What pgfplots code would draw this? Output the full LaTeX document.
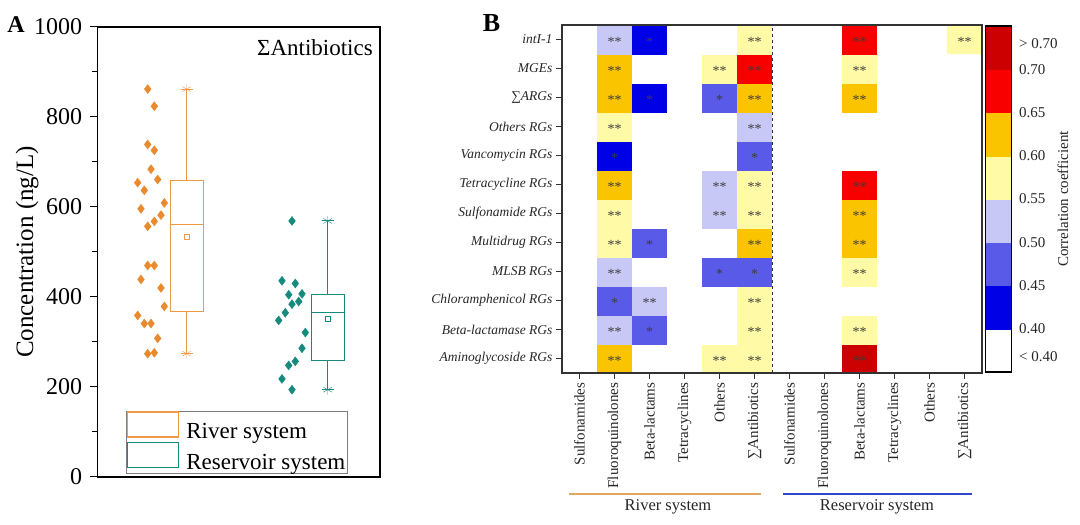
\documentclass[border=0pt]{standalone}
\usepackage{pgfplots}
\pgfplotsset{compat=1.18}
\usepgfplotslibrary{statistics}
\usepackage{fontspec}
\setmainfont{Liberation Serif}
\definecolor{rivo}{HTML}{E98A2E}
\definecolor{rivbox}{HTML}{EE9A48}
\definecolor{resv}{HTML}{178A7E}
\definecolor{cA}{HTML}{0000E6}
\definecolor{cB}{HTML}{5A5AE8}
\definecolor{cC}{HTML}{C8C8F6}
\definecolor{cD}{HTML}{FFFAA6}
\definecolor{cE}{HTML}{FAC400}
\definecolor{cF}{HTML}{F80000}
\definecolor{cG}{HTML}{CC0000}
\definecolor{starc}{HTML}{3C3C3C}
\definecolor{rivline}{HTML}{E0A860}
\definecolor{resline}{HTML}{3344CC}
\pgfplotsset{
  corrmap/.style={colormap={corr}{color(0cm)=(white) color(1cm)=(cA) color(2cm)=(cB) color(3cm)=(cC) color(4cm)=(cD) color(5cm)=(cE) color(6cm)=(cF) color(7cm)=(cG)}, colormap access=direct},
}
\begin{document}
\begin{tikzpicture}
\useasboundingbox (0pt,0pt) rectangle (1080pt,525pt);
% ---------------- Panel A ----------------
\begin{axis}[
  at={(97.7pt,48pt)}, anchor=south west, scale only axis,
  width=282.3pt, height=450pt,
  xmin=97.7, xmax=380, ymin=0, ymax=1000,
  xtick=\empty, ytick={0,200,400,600,800,1000}, minor ytick={100,300,500,700,900},
  ytick pos=left, tick align=outside, major tick length=8pt, minor tick length=6pt,
  tick style={black, line width=1pt}, axis line style={line width=1.2pt},
  /pgf/number format/assume math mode=true, /pgf/number format/1000 sep={},
  yticklabel style={font=\fontsize{24}{24}\selectfont, xshift=-4pt},
  ylabel={Concentration (ng/L)},
  ylabel style={font=\fontsize{25}{25}\selectfont, at={(axis description cs:-0.25,0.5)}, anchor=center},
  boxplot/draw direction=y,
  legend image code/.code={\draw[#1, line width=1.2pt] (0pt,-5pt) rectangle (51pt,20pt);},
  legend style={at={(axis description cs:0.1,0.009)}, anchor=south west, draw=gray,
    font=\fontsize{23}{23}\selectfont, cells={anchor=west}, inner sep=0.5pt, row sep=0pt,
    nodes={inner sep=1.5pt},
    /tikz/every odd column/.append style={column sep=6pt}},
]
\addplot[only marks, mark=diamond*, mark size=4.5pt, color=rivo, forget plot] coordinates {
(147.7,862) (154.3,824) (147.7,739) (154.3,726) (151,684) (157.7,661) (137.7,654) (144.3,637)
(164.3,609) (141,596) (161,582) (154.3,568) (147.7,557) (147.7,470) (154.3,470) (141,439)
(161,420) (164.3,379) (137.7,359) (144.3,341) (151,341) (157.7,308) (147.7,274) (154.3,276)};
\addplot[only marks, mark=diamond*, mark size=4.5pt, color=resv, forget plot] coordinates {
(292,569) (282,436) (295.3,430) (288.7,405) (302,407) (292,384) (298.7,390) (285.3,365)
(278.7,348) (305.3,321) (302,286) (295.3,257) (288.7,248) (282,218) (292,194)};
\addplot[rivbox, line width=1.1pt, forget plot, boxplot prepared={lower whisker=274, lower quartile=368, median=562, upper quartile=658, upper whisker=862, draw position=186.7, box extend=33.3, whisker extend=12}] coordinates {};
\addplot[resv, line width=1.1pt, forget plot, boxplot prepared={lower whisker=194, lower quartile=258, median=365, upper quartile=406, upper whisker=569, draw position=327.7, box extend=33.3, whisker extend=12}] coordinates {};
\addplot[only marks, mark=asterisk, mark size=5pt, rivbox, forget plot] coordinates {(186.7,862) (186.7,274)};
\addplot[only marks, mark=asterisk, mark size=5pt, resv, forget plot] coordinates {(327.7,569) (327.7,194)};
\addplot[only marks, mark=square, mark size=2.5pt, rivbox, forget plot] coordinates {(186.7,533)};
\addplot[only marks, mark=square, mark size=2.5pt, resv, forget plot] coordinates {(327.7,351)};
\addlegendimage{rivbox}
\addlegendentry{River system}
\addlegendimage{resv}
\addlegendentry{Reservoir system}
\node[anchor=north east, inner sep=0pt, font=\fontsize{23}{23}\selectfont] at (rel axis cs:0.975,0.972) {ΣAntibiotics};
\end{axis}
\node[font=\bfseries\fontsize{24}{24}\selectfont] at (16pt,500.5pt) {A};
\node[font=\bfseries\fontsize{26}{26}\selectfont] at (491.5pt,501.5pt) {B};
% ---------------- Panel B ----------------
\begin{axis}[
  at={(562pt,152pt)}, anchor=south west, scale only axis,
  width=420pt, height=348pt, corrmap,
  xmin=-0.5, xmax=11.5, ymin=-0.5, ymax=11.5,
  xtick={0,1,2,3,4,5,6,7,8,9,10,11},
  xticklabels={Sulfonamides, Fluoroquinolones, Beta-lactams, Tetracyclines, Others, ∑Antibiotics, Sulfonamides, Fluoroquinolones, Beta-lactams, Tetracyclines, Others, ∑Antibiotics},
  ytick={0,1,2,3,4,5,6,7,8,9,10,11},
  yticklabels={Aminoglycoside RGs, Beta-lactamase RGs, Chloramphenicol RGs, MLSB RGs, Multidrug RGs, Sulfonamide RGs, Tetracycline RGs, Vancomycin RGs, Others RGs, ∑ARGs, MGEs, intI-1},
  xtick pos=bottom, ytick pos=left, tick align=outside, major tick length=6pt,
  tick style={black!80, line width=1pt}, axis line style={black!80, line width=1.3pt},
  xticklabel style={rotate=90, anchor=east, font=\fontsize{15}{15}\selectfont, text=black!85},
  yticklabel style={font=\itshape\fontsize{13.5}{13.5}\selectfont, text=black!85},
  axis on top,
]
\addplot[matrix plot*, point meta=explicit, mesh/cols=12] coordinates {
(0,0)[0] (1,0)[5] (2,0)[0] (3,0)[0] (4,0)[4] (5,0)[4] (6,0)[0] (7,0)[0] (8,0)[7] (9,0)[0] (10,0)[0] (11,0)[0]
(0,1)[0] (1,1)[3] (2,1)[2] (3,1)[0] (4,1)[0] (5,1)[4] (6,1)[0] (7,1)[0] (8,1)[4] (9,1)[0] (10,1)[0] (11,1)[0]
(0,2)[0] (1,2)[2] (2,2)[3] (3,2)[0] (4,2)[0] (5,2)[4] (6,2)[0] (7,2)[0] (8,2)[0] (9,2)[0] (10,2)[0] (11,2)[0]
(0,3)[0] (1,3)[3] (2,3)[0] (3,3)[0] (4,3)[2] (5,3)[2] (6,3)[0] (7,3)[0] (8,3)[4] (9,3)[0] (10,3)[0] (11,3)[0]
(0,4)[0] (1,4)[4] (2,4)[2] (3,4)[0] (4,4)[0] (5,4)[5] (6,4)[0] (7,4)[0] (8,4)[5] (9,4)[0] (10,4)[0] (11,4)[0]
(0,5)[0] (1,5)[4] (2,5)[0] (3,5)[0] (4,5)[3] (5,5)[4] (6,5)[0] (7,5)[0] (8,5)[5] (9,5)[0] (10,5)[0] (11,5)[0]
(0,6)[0] (1,6)[5] (2,6)[0] (3,6)[0] (4,6)[3] (5,6)[4] (6,6)[0] (7,6)[0] (8,6)[6] (9,6)[0] (10,6)[0] (11,6)[0]
(0,7)[0] (1,7)[1] (2,7)[0] (3,7)[0] (4,7)[0] (5,7)[2] (6,7)[0] (7,7)[0] (8,7)[0] (9,7)[0] (10,7)[0] (11,7)[0]
(0,8)[0] (1,8)[4] (2,8)[0] (3,8)[0] (4,8)[0] (5,8)[3] (6,8)[0] (7,8)[0] (8,8)[0] (9,8)[0] (10,8)[0] (11,8)[0]
(0,9)[0] (1,9)[5] (2,9)[1] (3,9)[0] (4,9)[2] (5,9)[5] (6,9)[0] (7,9)[0] (8,9)[5] (9,9)[0] (10,9)[0] (11,9)[0]
(0,10)[0] (1,10)[5] (2,10)[0] (3,10)[0] (4,10)[4] (5,10)[6] (6,10)[0] (7,10)[0] (8,10)[4] (9,10)[0] (10,10)[0] (11,10)[0]
(0,11)[0] (1,11)[3] (2,11)[1] (3,11)[0] (4,11)[0] (5,11)[4] (6,11)[0] (7,11)[0] (8,11)[6] (9,11)[0] (10,11)[0] (11,11)[4]
};
\addplot[black!80, dashed, line width=0.8pt, forget plot] coordinates {(5.5,-0.5) (5.5,11.5)};
\addplot[only marks, mark=text, text mark={**}, text mark as node=true, color=starc, text mark style={font=\fontsize{14}{14}\selectfont, text=starc, yshift=-2.5pt}] coordinates {
(1,11) (5,11) (8,11) (11,11)
(1,10) (4,10) (5,10) (8,10)
(1,9) (5,9) (8,9)
(1,8) (5,8)
(1,6) (4,6) (5,6) (8,6)
(1,5) (4,5) (5,5) (8,5)
(1,4) (5,4) (8,4)
(1,3) (8,3)
(2,2) (5,2)
(1,1) (5,1) (8,1)
(1,0) (4,0) (5,0) (8,0)};
\addplot[only marks, mark=text, text mark={*}, text mark as node=true, color=starc, text mark style={font=\fontsize{14}{14}\selectfont, text=starc, yshift=-2.5pt}] coordinates {
(2,11) (2,9) (4,9) (1,7) (5,7) (2,4) (4,3) (5,3) (1,2) (2,1)};
\end{axis}
% ---------------- Colour bar ----------------
\begin{axis}[
  at={(985.7pt,153pt)}, anchor=south west, scale only axis,
  width=26pt, height=346pt, corrmap,
  xmin=-0.5, xmax=1.5, ymin=-0.5, ymax=7.5,
  xtick=\empty,
  ytick={-0.15,0.5,1.5,2.5,3.5,4.5,5.5,6.5,7.1},
  yticklabels={< 0.40, 0.40, 0.45, 0.50, 0.55, 0.60, 0.65, 0.70, > 0.70},
  yticklabel pos=right, major tick length=0pt,
  yticklabel style={font=\fontsize{15}{15}\selectfont, text=black!85, xshift=4pt},
  axis line style={black, line width=1.2pt},
  ylabel={Correlation coefficient},
  ylabel style={font=\fontsize{15}{15}\selectfont, text=black!85, at={(axis description cs:2.97,0.5)}, anchor=center, rotate=0},
  axis on top,
]
\addplot[matrix plot*, point meta=explicit, mesh/cols=2] coordinates {
(0,0)[0] (1,0)[0] (0,1)[1] (1,1)[1] (0,2)[2] (1,2)[2] (0,3)[3] (1,3)[3]
(0,4)[4] (1,4)[4] (0,5)[5] (1,5)[5] (0,6)[6] (1,6)[6] (0,7)[7] (1,7)[7]};
\end{axis}
% group labels
\draw[rivline, line width=1.5pt] (569pt,31pt) -- (761pt,31pt);
\node[font=\fontsize{16.5}{16.5}\selectfont, text=black!85] at (668pt,18pt) {River system};
\draw[resline, line width=1.5pt] (783pt,31pt) -- (972pt,31pt);
\node[font=\fontsize{16.5}{16.5}\selectfont, text=black!85] at (877pt,18pt) {Reservoir system};
\end{tikzpicture}
\end{document}
